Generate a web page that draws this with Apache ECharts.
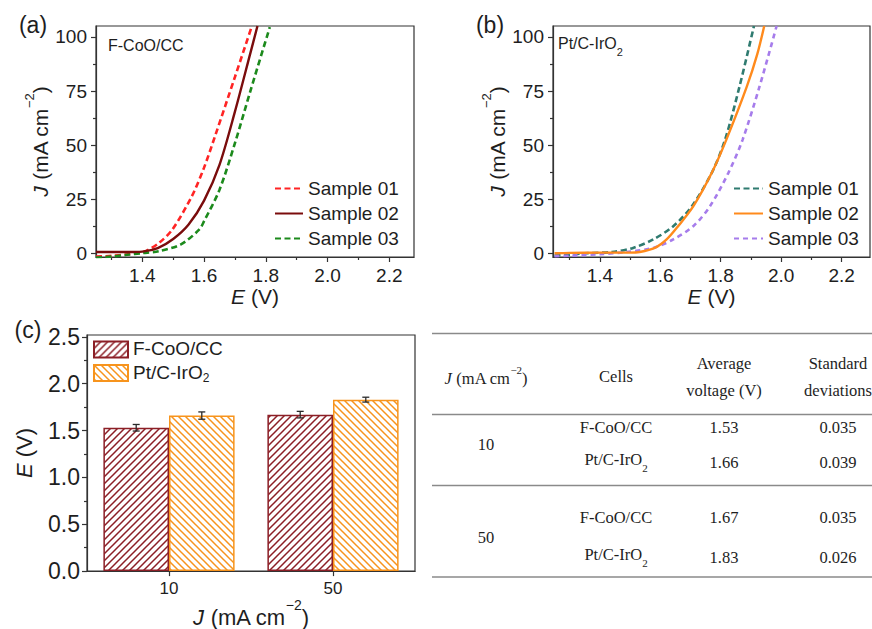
<!DOCTYPE html>
<html><head><meta charset="utf-8">
<script src="https://cdn.jsdelivr.net/npm/echarts@6/dist/echarts.min.js"></script>
<style>html,body{margin:0;padding:0;background:#fff}#c{width:872px;height:629px}</style>
</head><body><div id="c"></div>
<script>
// ---------- data ----------
const sampleNames = ['Sample 01', 'Sample 02', 'Sample 03'];
// panel (a) F-CoO/CC : [E (V), J (mA cm-2)]
const aSample01 = [[1.25,-1.3],[1.30,-1.0],[1.35,-0.3],[1.38,0.3],[1.411,1.2],[1.454,5.0],[1.497,11.1],[1.56,26.4],[1.60,39.7],[1.635,54.0],[1.70,81.5],[1.755,105]];
const aSample02 = [[1.25,0.8],[1.30,0.8],[1.35,0.8],[1.40,1.0],[1.45,2.6],[1.50,6.8],[1.55,13.5],[1.60,24.5],[1.65,41.0],[1.70,65.5],[1.75,92.5],[1.773,105]];
const aSample03 = [[1.25,-1.8],[1.30,-1.3],[1.35,-0.5],[1.40,0.3],[1.454,1.2],[1.525,4.3],[1.584,11.1],[1.60,15.0],[1.65,29.5],[1.70,51.0],[1.75,75.0],[1.813,104.5]];
// panel (b) Pt/C-IrO2
const bSample01 = [[1.25,-0.8],[1.30,-0.5],[1.35,0.2],[1.44,0.8],[1.51,2.7],[1.577,6.6],[1.643,12.7],[1.704,21.8],[1.77,37.2],[1.814,52.4],[1.862,77.0],[1.91,105]];
const bSample02 = [[1.25,0.2],[1.30,0.4],[1.40,0.5],[1.50,0.5],[1.532,0.8],[1.582,2.7],[1.621,6.6],[1.659,12.7],[1.709,21.8],[1.77,37.2],[1.818,52.4],[1.886,76.9],[1.921,92.0],[1.944,105]];
const bSample03 = [[1.25,-1.1],[1.30,-0.9],[1.40,-0.2],[1.488,0.8],[1.577,2.7],[1.643,6.6],[1.709,12.7],[1.764,21.8],[1.825,37.2],[1.872,52.4],[1.928,76.9],[1.985,105]];
// panel (c) and table
const cellNames = ['F-CoO/CC', 'Pt/C-IrO2'];
const currentDensities = ['10', '50'];
const fcooVoltage = [1.53, 1.67];
const fcooStd = [0.035, 0.035];
const ptcVoltage = [1.66, 1.83];
const ptcStd = [0.039, 0.026];
// ticks
const eMajor = [1.4, 1.6, 1.8, 2.0, 2.2];
const eMinor = [1.3, 1.5, 1.7, 1.9, 2.1];
const jMajor = [0, 25, 50, 75, 100];
const jMinor = [12.5, 37.5, 62.5, 87.5];
const vMajor = [0, 0.5, 1.0, 1.5, 2.0, 2.5];
const vMinor = [0.25, 0.75, 1.25, 1.75, 2.25];

// ---------- styles ----------
const SANS = 'Liberation Sans, Arial, sans-serif';
const SERIF = 'Liberation Serif, Times New Roman, serif';
const AX = '#333';
const TXT = '#1e1e1e';
const colA = ['#ff2424', '#7a0c0c', '#1c8a1c'];
const colB = ['#2f7b70', '#ff8a1c', '#a67ceb'];
const typeA = [[6, 3.5], 'solid', [6, 3.5]];
const typeB = [[6, 3.5], 'solid', [5, 4]];
const barCol = ['#8c1f26', '#f7941d'];

function hatch(color, dir) {
  const s = 7, cv = document.createElement('canvas');
  cv.width = s; cv.height = s;
  const g = cv.getContext('2d');
  g.fillStyle = '#fff'; g.fillRect(0, 0, s, s);
  g.strokeStyle = color; g.lineWidth = 1.5; g.lineCap = 'square';
  g.beginPath();
  if (dir > 0) {
    g.moveTo(-1, s + 1); g.lineTo(s + 1, -1);
    g.moveTo(-1, 1); g.lineTo(1, -1);
    g.moveTo(s - 1, s + 1); g.lineTo(s + 1, s - 1);
  } else {
    g.moveTo(-1, -1); g.lineTo(s + 1, s + 1);
    g.moveTo(s - 1, -1); g.lineTo(s + 1, 1);
    g.moveTo(-1, s - 1); g.lineTo(1, s + 1);
  }
  g.stroke();
  return cv;
}

function mainAx(grid, min, max, major, fmt, fs, mg, extra) {
  return Object.assign({
    type: 'value', gridIndex: grid, min: min, max: max,
    axisLine: { show: true, onZero: false, lineStyle: { color: AX, width: 1.2 } },
    axisTick: { show: true, customValues: major, length: 5, lineStyle: { color: AX, width: 1.2 } },
    axisLabel: { show: true, customValues: major, formatter: fmt, fontSize: fs, margin: mg, color: TXT, fontFamily: SANS },
    splitLine: { show: false }
  }, extra || {});
}
function minorAx(grid, min, max, minor, pos) {
  return {
    type: 'value', gridIndex: grid, min: min, max: max, position: pos,
    axisLine: { show: false, onZero: false },
    axisTick: { show: true, customValues: minor, length: 3, lineStyle: { color: AX, width: 1.2 } },
    axisLabel: { show: false }, splitLine: { show: false }
  };
}
const f1 = v => Number(v).toFixed(1);
const f0 = v => String(Math.round(v));

const eName = {
  name: '{i|E}{t| (V)}', nameLocation: 'middle', nameGap: 29,
  nameTextStyle: { fontSize: 21, color: TXT, fontFamily: SANS,
    rich: { i: { fontStyle: 'italic', fontSize: 21, fontFamily: SANS, color: TXT }, t: { fontSize: 21, fontFamily: SANS, color: TXT } } }
};
const jRich = {
  i: { fontStyle: 'italic', fontSize: 21, fontFamily: SANS, color: TXT, lineHeight: 28, verticalAlign: 'bottom' },
  t: { fontSize: 21, fontFamily: SANS, color: TXT, lineHeight: 28, verticalAlign: 'bottom' },
  s: { fontSize: 13, fontFamily: SANS, color: TXT, lineHeight: 13, verticalAlign: 'top' }
};
const jName = {
  name: '{i|J}{t| (mA cm}{s|−2}{t|)}', nameLocation: 'middle', nameGap: 37,
  nameTextStyle: { fontSize: 21, color: TXT, fontFamily: SANS, rich: jRich }
};

const xAxes = [
  mainAx(0, 1.25, 2.28, eMajor, f1, 19, 9, Object.assign({ position: 'bottom' }, eName)),
  minorAx(0, 1.25, 2.28, eMinor, 'bottom'),
  mainAx(1, 1.245, 2.294, eMajor, f1, 19, 9, Object.assign({ position: 'bottom' }, eName)),
  minorAx(1, 1.245, 2.294, eMinor, 'bottom'),
  {
    type: 'category', gridIndex: 2, data: currentDensities, position: 'bottom',
    axisLine: { show: true, onZero: false, lineStyle: { color: AX, width: 1.2 } },
    axisTick: { show: true, alignWithLabel: true, length: 5, lineStyle: { color: AX, width: 1.2 } },
    axisLabel: { fontSize: 17, margin: 9, color: TXT, fontFamily: SANS },
    name: '{i|J}{t| (mA cm}{s|−2}{t|)}', nameLocation: 'middle', nameGap: 21,
    nameTextStyle: { fontSize: 22, color: TXT, fontFamily: SANS, rich: {
      i: { fontStyle: 'italic', fontSize: 22, fontFamily: SANS, color: TXT, lineHeight: 30, verticalAlign: 'bottom' },
      t: { fontSize: 22, fontFamily: SANS, color: TXT, lineHeight: 30, verticalAlign: 'bottom' },
      s: { fontSize: 14, fontFamily: SANS, color: TXT, lineHeight: 14, verticalAlign: 'top' } } }
  }
];
const yAxes = [
  mainAx(0, -1.5, 105, jMajor, f0, 19, 9, Object.assign({ position: 'left' }, jName)),
  minorAx(0, -1.5, 105, jMinor, 'left'),
  mainAx(1, -1.5, 105, jMajor, f0, 19, 9, Object.assign({ position: 'left' }, jName)),
  minorAx(1, -1.5, 105, jMinor, 'left'),
  mainAx(2, 0, 2.52, vMajor, f1, 23, 7, {
    position: 'left', name: '{i|E}{t| (V)}', nameLocation: 'middle', nameGap: 52,
    nameTextStyle: { fontSize: 22, color: TXT, fontFamily: SANS,
      rich: { i: { fontStyle: 'italic', fontSize: 22, fontFamily: SANS, color: TXT }, t: { fontSize: 22, fontFamily: SANS, color: TXT } } }
  }),
  minorAx(2, 0, 2.52, vMinor, 'left')
];

function lineSeries(prefix, idx, data, colors, types, gi) {
  return {
    type: 'line', name: prefix + sampleNames[idx], xAxisIndex: gi * 2, yAxisIndex: gi * 2,
    data: data, symbol: 'none', showSymbol: false, smooth: 0.3, clip: true,
    lineStyle: { color: colors[idx], width: idx === 1 ? 2.4 : 2.6, type: types[idx] },
    itemStyle: { color: colors[idx] }, z: idx === 1 ? 3 : 2
  };
}

const errData = (vals, stds, side) => vals.map((v, i) => [i, v, stds[i], side]);
function renderErr(params, api) {
  const ci = api.value(0), v = api.value(1), s = api.value(2), side = api.value(3);
  const c = api.coord([ci, v]);
  const band = api.size([1, 0])[0];
  const x = c[0] + side * band * 0.2;
  const yt = api.coord([ci, v + s])[1], yb = api.coord([ci, v - s])[1];
  const st = { stroke: '#2a2a2a', lineWidth: 1.3 };
  return { type: 'group', children: [
    { type: 'line', shape: { x1: x, y1: yt, x2: x, y2: yb }, style: st },
    { type: 'line', shape: { x1: x - 3.5, y1: yt, x2: x + 3.5, y2: yt }, style: st },
    { type: 'line', shape: { x1: x - 3.5, y1: yb, x2: x + 3.5, y2: yb }, style: st }
  ] };
}

const series = [
  lineSeries('a:', 0, aSample01, colA, typeA, 0),
  lineSeries('a:', 1, aSample02, colA, typeA, 0),
  lineSeries('a:', 2, aSample03, colA, typeA, 0),
  lineSeries('b:', 0, bSample01, colB, typeB, 1),
  lineSeries('b:', 1, bSample02, colB, typeB, 1),
  lineSeries('b:', 2, bSample03, colB, typeB, 1),
  { type: 'bar', name: cellNames[0], xAxisIndex: 4, yAxisIndex: 4, data: fcooVoltage,
    barGap: '0%', barCategoryGap: '20%',
    itemStyle: { color: { image: hatch(barCol[0], 1), repeat: 'repeat' }, borderColor: barCol[0], borderWidth: 1.5 } },
  { type: 'bar', name: cellNames[1], xAxisIndex: 4, yAxisIndex: 4, data: ptcVoltage,
    barGap: '0%', barCategoryGap: '20%',
    itemStyle: { color: { image: hatch(barCol[1], -1), repeat: 'repeat' }, borderColor: barCol[1], borderWidth: 1.5 } },
  { type: 'custom', name: 'err1', xAxisIndex: 4, yAxisIndex: 4, renderItem: renderErr, data: errData(fcooVoltage, fcooStd, -1), z: 5 },
  { type: 'custom', name: 'err2', xAxisIndex: 4, yAxisIndex: 4, renderItem: renderErr, data: errData(ptcVoltage, ptcStd, 1), z: 5 }
];

const legendText = { fontSize: 19, color: TXT, fontFamily: SANS, lineHeight: 19 };
const legends = [
  { data: sampleNames.map(n => 'a:' + n), formatter: n => n.slice(2), orient: 'vertical', left: 274, top: 179, padding: 0,
    itemWidth: 28, itemHeight: 14, itemGap: 6, textStyle: legendText, selectedMode: false, itemStyle: { opacity: 0 } },
  { data: sampleNames.map(n => 'b:' + n), formatter: n => n.slice(2), orient: 'vertical', left: 733, top: 179, padding: 0,
    itemWidth: 29, itemHeight: 14, itemGap: 6, textStyle: legendText, selectedMode: false, itemStyle: { opacity: 0 } },
  { data: cellNames, orient: 'vertical', left: 93, top: 339, padding: 0, icon: 'rect', itemWidth: 34, itemHeight: 16, itemGap: 4,
    selectedMode: false,
    formatter: n => n === 'Pt/C-IrO2' ? '{t|Pt/C-IrO}{b|2}' : '{t|' + n + '}',
    textStyle: { fontSize: 19, color: TXT, fontFamily: SANS, rich: {
      t: { fontSize: 19, fontFamily: SANS, color: TXT, lineHeight: 21, verticalAlign: 'top' },
      b: { fontSize: 12, fontFamily: SANS, color: TXT, lineHeight: 12, verticalAlign: 'bottom' } } } }
];

// ---------- graphic: panel labels, insets, table ----------
const subRich = (fs, fam) => ({
  t: { fontSize: fs, fontFamily: fam, fill: TXT, lineHeight: fs + 6, verticalAlign: 'top' },
  b: { fontSize: Math.round(fs * 0.66), fontFamily: fam, fill: TXT, lineHeight: Math.round(fs * 0.66), verticalAlign: 'bottom' },
  i: { fontSize: fs, fontFamily: fam, fill: TXT, fontStyle: 'italic', lineHeight: fs + 6, verticalAlign: 'bottom' },
  n: { fontSize: fs, fontFamily: fam, fill: TXT, lineHeight: fs + 6, verticalAlign: 'bottom' },
  s: { fontSize: Math.round(fs * 0.66), fontFamily: fam, fill: TXT, lineHeight: Math.round(fs * 0.66), verticalAlign: 'top' }
});
function txt(x, y, text, fs, fam, align, rich) {
  return { type: 'text', x: x, y: y, z: 10, style: {
    text: text, fontSize: fs, fontFamily: fam, fill: TXT,
    align: align || 'center', textAlign: align || 'center', verticalAlign: 'middle', textVerticalAlign: 'middle',
    rich: rich } };
}
const cellLabel = n => n === 'Pt/C-IrO2' ? '{t|Pt/C-IrO}{b|2}' : n;
const TFS = 16.5;
const tRich = subRich(TFS, SERIF);
const colX = [486, 616, 724, 838];
const rowY = [[427, 462], [517, 557]];
const graphics = [
  txt(33, 25, '(a)', 23, SANS), txt(490, 25, '(b)', 23, SANS), txt(28, 330, '(c)', 23, SANS),
  txt(108, 45, 'F-CoO/CC', 16, SANS, 'left'),
  txt(558, 46, '{t|Pt/C-IrO}{b|2}', 16, SANS, 'left', subRich(16, SANS)),
  { type: 'line', shape: { x1: 432, y1: 333.5, x2: 872, y2: 333.5 }, style: { stroke: '#8a8a8a', lineWidth: 1.5 } },
  { type: 'line', shape: { x1: 432, y1: 414.5, x2: 872, y2: 414.5 }, style: { stroke: '#8a8a8a', lineWidth: 1.5 } },
  { type: 'line', shape: { x1: 432, y1: 485.5, x2: 872, y2: 485.5 }, style: { stroke: '#8a8a8a', lineWidth: 1.5 } },
  { type: 'line', shape: { x1: 432, y1: 577, x2: 872, y2: 577 }, style: { stroke: '#8a8a8a', lineWidth: 1.5 } },
  txt(colX[0], 376, '{i|J}{n| (mA cm}{s|−2}{n|)}', TFS, SERIF, 'center', tRich),
  txt(colX[1], 376, 'Cells', TFS, SERIF),
  txt(colX[2], 363, 'Average', TFS, SERIF),
  txt(colX[2], 390, 'voltage (V)', TFS, SERIF),
  txt(colX[3], 363, 'Standard', TFS, SERIF),
  txt(colX[3], 390, 'deviations', TFS, SERIF)
];
currentDensities.forEach((jd, i) => {
  graphics.push(txt(colX[0], (rowY[i][0] + rowY[i][1]) / 2, jd, TFS, SERIF));
  graphics.push(txt(colX[1], rowY[i][0], cellLabel(cellNames[0]), TFS, SERIF, 'center', tRich));
  graphics.push(txt(colX[1], rowY[i][1], cellLabel(cellNames[1]), TFS, SERIF, 'center', tRich));
  graphics.push(txt(colX[2], rowY[i][0], fcooVoltage[i].toFixed(2), TFS, SERIF));
  graphics.push(txt(colX[2], rowY[i][1], ptcVoltage[i].toFixed(2), TFS, SERIF));
  graphics.push(txt(colX[3], rowY[i][0], fcooStd[i].toFixed(3), TFS, SERIF));
  graphics.push(txt(colX[3], rowY[i][1], ptcStd[i].toFixed(3), TFS, SERIF));
});

const gridBase = { show: true, borderColor: AX, borderWidth: 1.2, backgroundColor: 'transparent', containLabel: false };
const chart = echarts.init(document.getElementById('c'), null, { renderer: 'svg', width: 872, height: 629 });
chart.setOption({
  animation: false,
  backgroundColor: '#fff',
  textStyle: { fontFamily: SANS },
  grid: [
    Object.assign({ left: 96, top: 26, width: 318, height: 231 }, gridBase),
    Object.assign({ left: 553, top: 26, width: 317, height: 231 }, gridBase),
    Object.assign({ left: 87, top: 335, width: 328, height: 237 }, gridBase)
  ],
  xAxis: xAxes,
  yAxis: yAxes,
  legend: legends,
  series: series,
  graphic: graphics
});
</script></body></html>
